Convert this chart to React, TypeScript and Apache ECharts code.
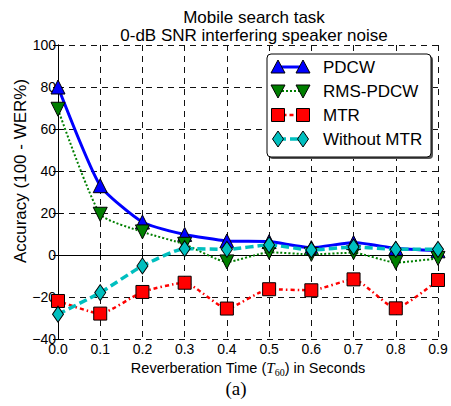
import React, { useEffect, useRef } from "react";
import * as echarts from "echarts";

const T60 = [0.0, 0.1, 0.2, 0.3, 0.4, 0.5, 0.6, 0.7, 0.8, 0.9];
const PDCW = [80, 33, 15.7, 9.8, 6.7, 6.4, 3.5, 5.9, 3.2, 2.0];
const RMS_PDCW = [69.4, 19.4, 11, 5.1, -3.3, 1.3, 0.3, 1.1, -3.6, -1.6];
const MTR = [-21.9, -27.9, -17.6, -13.2, -25.5, -16.3, -16.8, -11.6, -25.4, -11.9];
const WITHOUT_MTR = [-28.2, -17.9, -5.2, 3.0, 2.7, 4.8, 2.4, 3.8, 2.7, 2.7];
const SERIES_NAMES = ["PDCW", "RMS-PDCW", "MTR", "Without MTR"];
const TITLE_LINES = ["Mobile search task", "0-dB SNR interfering speaker noise"];
const Y_LABEL = "Accuracy (100 - WER%)";
const CAPTION = "(a)";

const FONT = "'Liberation Sans', Arial, sans-serif";
const GRID_LINE = { show: true, lineStyle: { color: "#111", type: [6, 5] as any, width: 1 } };

const STYLES = [
  { color: "#0000FF", line: { type: "solid", width: 3 }, symbol: "triangle", size: 14, rotate: 0 },
  { color: "#007F00", line: { type: [2, 2], width: 2 }, symbol: "triangle", size: 14, rotate: 180 },
  { color: "#FF0000", line: { type: [4, 3, 1.5, 3], width: 2.5 }, symbol: "rect", size: 13, rotate: 0 },
  { color: "#00BFBF", line: { type: [8, 4], width: 3.5 }, symbol: "diamond", size: [11, 16], rotate: 0 },
];

function legendGraphic() {
  const children: any[] = [];
  const x0 = 267, y0 = 54, w = 164, h = 103;
  children.push({ type: "rect", shape: { x: x0 + 2, y: y0 + 2, width: w, height: h, r: 4 }, style: { fill: "#555" }, z: 100 });
  children.push({ type: "rect", shape: { x: x0, y: y0, width: w, height: h, r: 4 }, style: { fill: "#fff", stroke: "#000", lineWidth: 1 }, z: 101 });
  const rows = [67, 91, 115, 139];
  const xa = 278, xb = 303;
  SERIES_NAMES.forEach((name, i) => {
    const s = STYLES[i];
    const y = rows[i];
    children.push({
      type: "line", shape: { x1: xa, y1: y, x2: xb, y2: y },
      style: { stroke: s.color, lineWidth: s.line.width, lineDash: s.line.type === "solid" ? null : s.line.type }, z: 102,
    });
    [xa, xb].forEach((cx) => {
      let el: any;
      if (i === 0) el = { type: "polygon", shape: { points: [[cx, y - 7], [cx + 7, y + 6], [cx - 7, y + 6]] } };
      else if (i === 1) el = { type: "polygon", shape: { points: [[cx, y + 7], [cx + 7, y - 6], [cx - 7, y - 6]] } };
      else if (i === 2) el = { type: "rect", shape: { x: cx - 6.5, y: y - 6.5, width: 13, height: 13 } };
      else el = { type: "polygon", shape: { points: [[cx, y - 8], [cx + 5.5, y], [cx, y + 8], [cx - 5.5, y]] } };
      el.style = { fill: s.color, stroke: "#000", lineWidth: 1 };
      el.z = 103;
      children.push(el);
    });
    children.push({
      type: "text", x: 323, y, z: 103,
      style: { text: name, font: `17px ${FONT}`, fill: "#000", textVerticalAlign: "middle", textAlign: "left" },
    });
  });
  return children;
}

export default function App() {
  const ref = useRef<HTMLDivElement>(null);
  useEffect(() => {
    if (!ref.current) return;
    const chart = echarts.init(ref.current, null, { renderer: "svg" });
    const allData = [PDCW, RMS_PDCW, MTR, WITHOUT_MTR];
    const minus = (v: number) => String(v).replace("-", "\u2212");
    const option: any = {
      animation: false,
      backgroundColor: "#fff",
      title: {
        text: TITLE_LINES.join("\n"),
        left: 249,
        textAlign: "center",
        top: 3,
        textStyle: { fontFamily: FONT, fontSize: 17, fontWeight: "normal", color: "#000", lineHeight: 18 },
      },
      grid: { left: 58, right: 13, top: 45, bottom: 67, containLabel: false },
      xAxis: [
        {
          type: "value", min: 0, max: 0.9, interval: 0.1, position: "bottom",
          name: "{a|Reverberation Time (}{t|T}{s|60}{a|) in Seconds}",
          nameLocation: "middle", nameGap: 18,
          nameTextStyle: {
            rich: {
              a: { fontFamily: FONT, fontSize: 14.5, color: "#000" },
              t: { fontFamily: "'Liberation Serif', serif", fontStyle: "italic", fontSize: 15, color: "#000" },
              s: { fontFamily: "'Liberation Serif', serif", fontSize: 10, color: "#000", padding: [8, 0, 0, 0] },
            },
          },
          axisLine: { show: true, lineStyle: { color: "#000", width: 1 } },
          axisTick: { show: true, inside: true, length: 5, lineStyle: { color: "#000" } },
          axisLabel: { fontFamily: FONT, fontSize: 14, color: "#000", margin: 3, formatter: (v: number) => v.toFixed(1) },
          splitLine: GRID_LINE,
        },
        {
          type: "value", min: 0, max: 0.9, interval: 0.1, position: "top",
          axisLine: { show: true, lineStyle: { color: "#000", width: 1 } },
          axisTick: { show: true, inside: true, length: 5, lineStyle: { color: "#000" } },
          axisLabel: { show: false }, splitLine: { show: false },
        },
      ],
      yAxis: [
        {
          type: "value", min: -40, max: 100, interval: 20, position: "left",
          axisLine: { show: true, lineStyle: { color: "#000", width: 1 } },
          axisTick: { show: true, inside: true, length: 5, lineStyle: { color: "#000" } },
          axisLabel: { fontFamily: FONT, fontSize: 14, color: "#000", margin: 2, formatter: minus },
          splitLine: GRID_LINE,
        },
        {
          type: "value", min: -40, max: 100, interval: 20, position: "right",
          axisLine: { show: true, lineStyle: { color: "#000", width: 1 } },
          axisTick: { show: true, inside: true, length: 5, lineStyle: { color: "#000" } },
          axisLabel: { show: false }, splitLine: { show: false },
        },
      ],
      series: SERIES_NAMES.map((name, i) => {
        const s = STYLES[i];
        return {
          name, type: "line", xAxisIndex: 0, yAxisIndex: 0,
          data: T60.map((t, k) => [t, allData[i][k]]),
          smooth: 0.18,
          symbol: s.symbol, symbolSize: s.size, symbolRotate: s.rotate,
          showAllSymbol: true,
          lineStyle: { color: s.color, width: s.line.width, type: s.line.type },
          itemStyle: { color: s.color, borderColor: "#000", borderWidth: 1 },
          z: 2 + i,
        };
      }),
      graphic: [
        ...legendGraphic(),
        {
          type: "text", x: 20, y: 171, rotation: Math.PI / 2,
          style: { text: Y_LABEL, font: `17px ${FONT}`, fill: "#000", textAlign: "center", textVerticalAlign: "middle" },
        },
        {
          type: "text", x: 236, y: 388,
          style: { text: CAPTION, font: `19px 'Liberation Serif', serif`, fill: "#000", textAlign: "center", textVerticalAlign: "middle" },
        },
      ],
    };
    chart.setOption(option);
    return () => chart.dispose();
  }, []);
  return <div ref={ref} style={{ position: "fixed", left: 0, top: 0, width: 451, height: 406 }} />;
}
